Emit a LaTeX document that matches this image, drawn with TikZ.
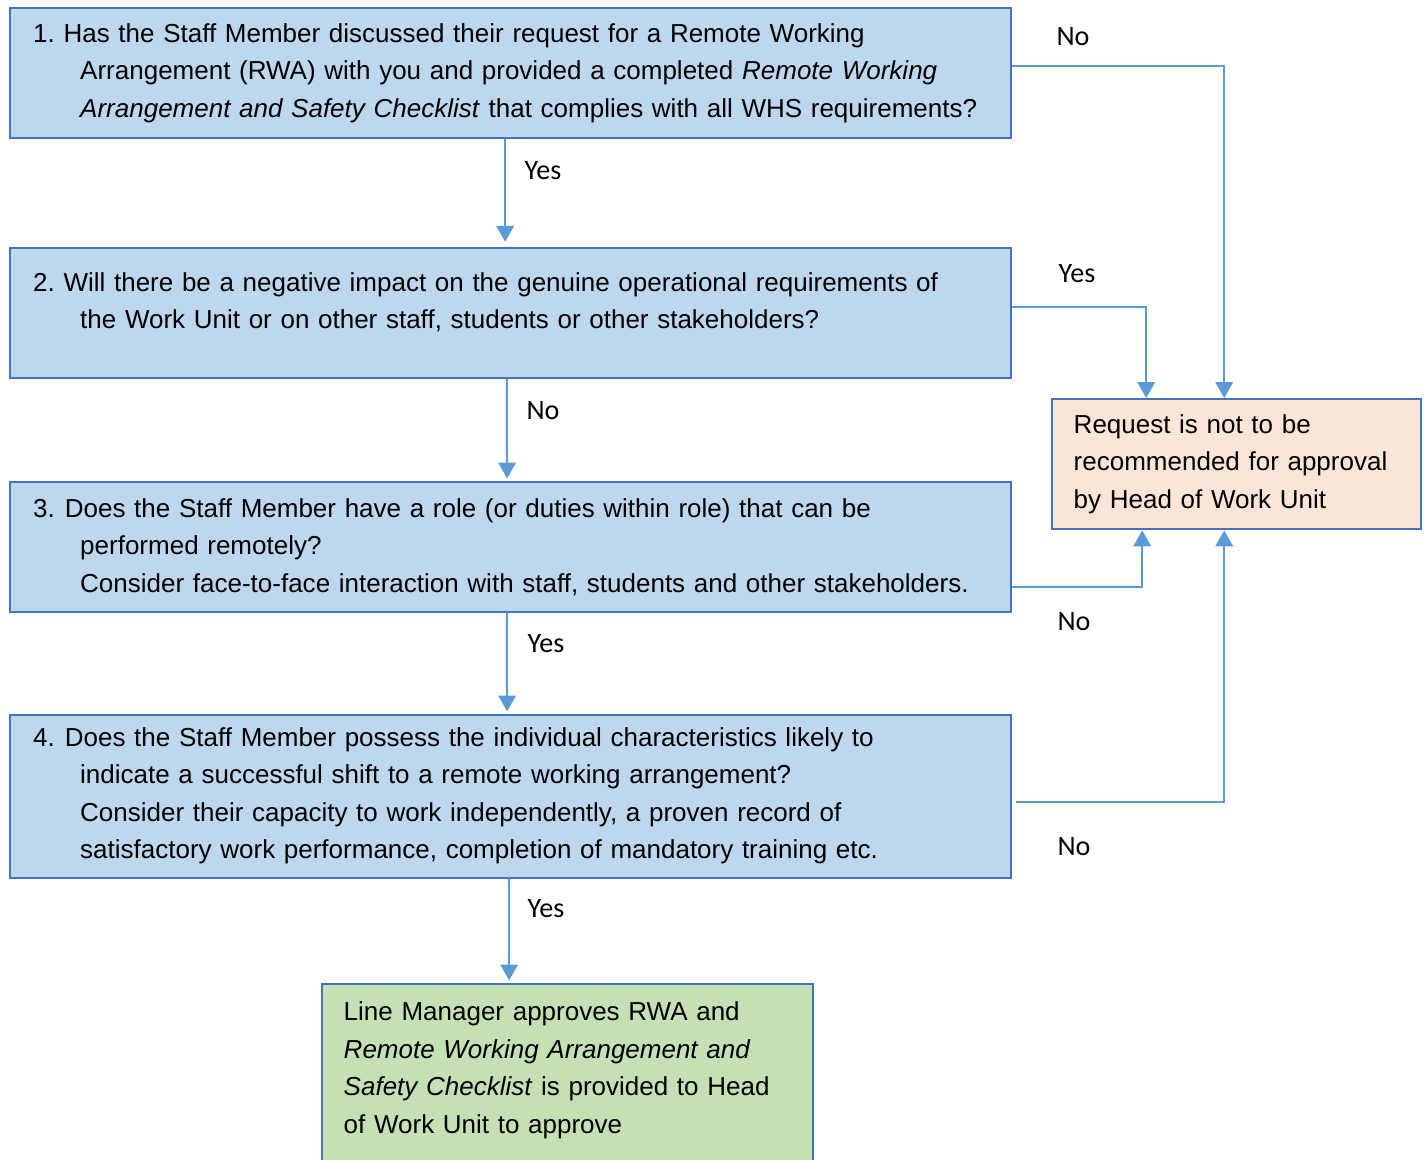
\documentclass[tikz,border=0pt]{standalone}
\usepackage{fontspec}
\setmainfont{Liberation Sans}
\newfontfamily\calib{Carlito}
\usetikzlibrary{arrows.meta}
\definecolor{qfill}{HTML}{BDD7EE}
\definecolor{qline}{HTML}{4472C4}
\definecolor{flowline}{HTML}{5B9BD5}
\definecolor{nofill}{HTML}{FBE5D6}
\definecolor{okfill}{HTML}{C5E0B4}
\newcommand{\ind}{\hspace*{0.94cm}}
\frenchspacing
\begin{document}
\begin{tikzpicture}[
        x=0.02cm, y=-0.02cm,
        font=\fontsize{14.8pt}{21.3pt}\selectfont
    ]
    \tikzset{
        qbox/.style = {rectangle, draw=qline, line width=1.4pt, fill=qfill, anchor=north west, align=left,
            inner xsep=0.46cm, inner ysep=0pt, text width=19.1cm, minimum width=20.02cm, minimum height=2.6cm},
        endbox/.style = {qbox, inner xsep=0.43cm},
        flow/.style = {draw=flowline, line width=0.9pt, -{Triangle[width=10pt,length=9pt]}, shorten >=1.5pt},
        answer/.style = {font=\calib\fontsize{16pt}{19pt}\selectfont, inner sep=0pt},
    }
    \useasboundingbox (0,0) rectangle (1428,1160);
    \node[qbox] (q1) at (9,7) {1. Has the Staff Member discussed their request for a Remote Working\\
        \ind Arrangement (RWA) with you and provided a completed \textit{Remote Working}\\
        \ind\mbox{\textit{Arrangement and Safety Checklist} that complies with all WHS requirements?}};
    \node[qbox] (q2) at (9,247) {2. Will there be a negative impact on the genuine operational requirements of\\
        \ind the Work Unit or on other staff, students or other stakeholders?\rule[-14.7pt]{0pt}{0pt}};
    \node[qbox] (q3) at (9,481) {3.\hspace{0.2cm}Does the Staff Member have a role (or duties within role) that can be\\
        \ind performed remotely?\\
        \ind\mbox{Consider face-to-face interaction with staff, students and other stakeholders.}};
    \node[qbox, minimum height=3.26cm] (q4) at (9,714) {4.\hspace{0.2cm}Does the Staff Member possess the individual characteristics likely to\\
        \ind indicate a successful shift to a remote working arrangement?\\
        \ind Consider their capacity to work independently, a proven record of\\
        \ind satisfactory work performance, completion of mandatory training etc.\rule[-4pt]{0pt}{0pt}};
    \node[endbox, fill=nofill, text width=6.52cm, minimum width=7.38cm] (refuse) at (1051,398)
        {Request is not to be\\ recommended for approval\\ by Head of Work Unit};
    \node[endbox, fill=okfill, text width=8.96cm, minimum width=9.8cm, minimum height=4cm] (approve) at (321,983)
        {Line Manager approves RWA and\\ \textit{Remote Working Arrangement and}\\
        \textit{Safety Checklist} is provided to Head\\ of Work Unit to approve\rule[-19pt]{0pt}{0pt}};

    \draw[flow, shorten >=3pt] ([xshift=-0.11cm]q1.south) -- ([xshift=-0.11cm]q2.north);
    \draw[flow] ([xshift=-0.07cm]q2.south) -- ([xshift=-0.07cm]q3.north);
    \draw[flow] ([xshift=-0.07cm]q3.south) -- ([xshift=-0.07cm]q4.north);
    \draw[flow] ([xshift=-0.03cm]q4.south) -- ([xshift=-0.03cm]q4.south |- approve.north);
    \draw[flow, shorten >=0pt] ([yshift=0.14cm]q1.east) -| ([xshift=-0.25cm]refuse.north);
    \draw[flow, shorten >=0pt] ([yshift=0.12cm]q2.east) -| ([xshift=-1.81cm]refuse.north);
    \draw[flow, shorten >=0pt] ([yshift=-0.8cm]q3.east) -| ([xshift=-1.89cm]refuse.south);
    \draw[flow, shorten >=0pt] ([xshift=0.08cm, yshift=-0.11cm]q4.east) -| ([xshift=-0.25cm]refuse.south);

    \node[answer] (a1) at (543,171) {Yes};
    \node[answer] (a2) at (543,411) {No};
    \node[answer] (a3) at (546,644) {Yes};
    \node[answer] (a4) at (546,909) {Yes};
    \node[answer] (b1) at (1073,37) {No};
    \node[answer] (b2) at (1077,274) {Yes};
    \node[answer] (b3) at (1074,622) {No};
    \node[answer] (b4) at (1074,847) {No};
\end{tikzpicture}
\end{document}
